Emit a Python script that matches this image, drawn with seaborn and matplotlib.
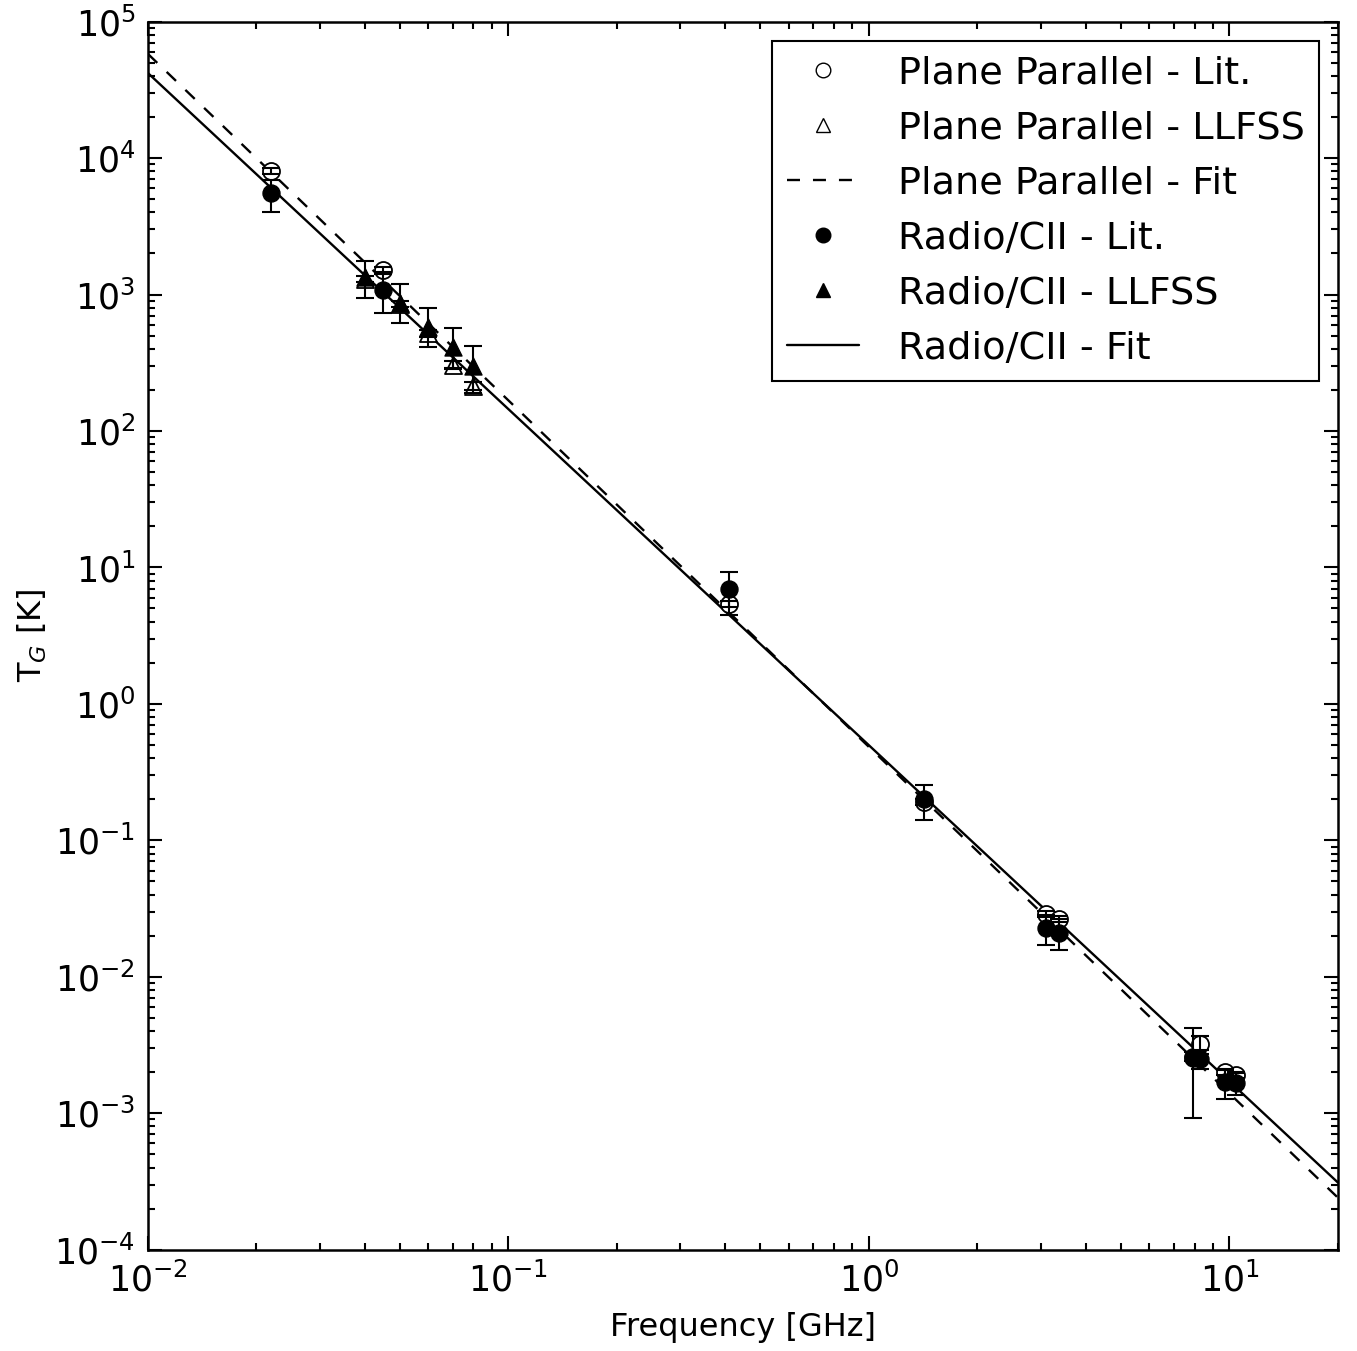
import numpy as np
import pandas as pd
import matplotlib
matplotlib.use("Agg")
import matplotlib.pyplot as plt
from matplotlib.lines import Line2D
import seaborn as sns

# frequencies in GHz, temperatures in K
lit_freq = [0.022, 0.045, 0.408, 1.42, 3.10, 3.36, 7.9, 8.3, 9.7, 10.4]
pp_lit_T = [8100, 1500, 5.4, 0.19, 0.0288, 0.0265, 0.0026, 0.0032, 0.0020, 0.0019]
pp_lit_err = [400, 80, 0.3, 0.01, 0.0015, 0.0013, 0.0002, 0.0005, 0.0001, 0.0001]
radio_lit_T = [5500, 1080, 7.0, 0.20, 0.0228, 0.0210, 0.00255, 0.0025, 0.00168, 0.00166]
radio_lit_lo = [1450, 350, 2.5, 0.058, 0.0057, 0.0053, 0.00163, 0.0004, 0.0004, 0.0003]
radio_lit_hi = [1450, 390, 2.3, 0.055, 0.0057, 0.0053, 0.00165, 0.0004, 0.0004, 0.0003]

llfss_freq = [0.040, 0.050, 0.060, 0.070, 0.080]
pp_llfss_T = [1300, 850, 520, 305, 215]
pp_llfss_err = [60, 40, 30, 18, 14]
radio_llfss_T = [1350, 870, 580, 414, 301]
radio_llfss_lo = [400, 250, 165, 130, 110]
radio_llfss_hi = [420, 330, 220, 150, 117]

# power-law fits, end points at the axis limits
fit_freq = [0.01, 20.0]
pp_fit_T = [58000, 2.4e-4]
radio_fit_T = [42000, 3.1e-4]

sns.set_style("ticks")
plt.rcParams['font.family'] = ['DejaVu Sans']
plt.rcParams['mathtext.fontset'] = 'dejavusans'
plt.rcParams.update({'text.color': 'k', 'axes.labelcolor': 'k',
                     'xtick.color': 'k', 'ytick.color': 'k',
                     'axes.edgecolor': 'k', 'axes.unicode_minus': False})

dash = (0, (5.5, 5.5))

fig, ax = plt.subplots(figsize=(13.57, 13.51), dpi=100)
fig.subplots_adjust(left=0.109, right=0.986, top=0.984, bottom=0.075)

fits = pd.DataFrame({'freq': fit_freq * 2,
                     'T': pp_fit_T + radio_fit_T,
                     'fit': ['pp'] * 2 + ['radio'] * 2})
sns.lineplot(data=fits[fits.fit == 'pp'], x='freq', y='T', color='k',
             lw=1.7, linestyle=dash, ax=ax, zorder=1)
sns.lineplot(data=fits[fits.fit == 'radio'], x='freq', y='T', color='k',
             lw=1.7, ax=ax, zorder=1)

# open markers (plane parallel)
sns.scatterplot(x=lit_freq, y=pp_lit_T, marker='o', s=150, facecolor='white',
                edgecolor='k', linewidth=1.3, ax=ax, zorder=2)
sns.scatterplot(x=llfss_freq, y=pp_llfss_T, marker='^', s=150, facecolor='white',
                edgecolor='k', linewidth=1.3, ax=ax, zorder=2)

eb = dict(fmt='none', ecolor='k', elinewidth=1.5, capsize=6.5, capthick=1.5, zorder=3)
ax.errorbar(lit_freq, pp_lit_T, yerr=pp_lit_err, **eb)
ax.errorbar(llfss_freq, pp_llfss_T, yerr=pp_llfss_err, **eb)
ax.errorbar(lit_freq, radio_lit_T, yerr=[radio_lit_lo, radio_lit_hi], **eb)
ax.errorbar(llfss_freq, radio_llfss_T, yerr=[radio_llfss_lo, radio_llfss_hi], **eb)

# filled markers (radio/CII)
sns.scatterplot(x=lit_freq, y=radio_lit_T, marker='o', s=150, color='k',
                edgecolor='k', ax=ax, zorder=4)
sns.scatterplot(x=llfss_freq, y=radio_llfss_T, marker='^', s=150, color='k',
                edgecolor='k', ax=ax, zorder=4)

ax.set_xscale('log')
ax.set_yscale('log')
ax.set_xlim(0.01, 20)
ax.set_ylim(1e-4, 1e5)
ax.set_xlabel('Frequency [GHz]', fontsize=23, labelpad=10)
ax.set_ylabel(r'T$_G$ [K]', fontsize=23, labelpad=4)
ax.tick_params(which='both', direction='in', top=True, right=True, width=1.5)
ax.tick_params(which='major', length=10, labelsize=25, pad=9)
ax.tick_params(which='minor', length=5)
for sp in ax.spines.values():
    sp.set_visible(True)
    sp.set_linewidth(1.8)

handles = [
    Line2D([], [], ls='none', marker='o', mfc='white', mec='k', ms=10.5),
    Line2D([], [], ls='none', marker='^', mfc='white', mec='k', ms=10.5),
    Line2D([], [], color='k', lw=1.7, linestyle=dash),
    Line2D([], [], ls='none', marker='o', mfc='k', mec='k', ms=10.5),
    Line2D([], [], ls='none', marker='^', mfc='k', mec='k', ms=10.5),
    Line2D([], [], color='k', lw=1.7),
]
labels = ['Plane Parallel - Lit.', 'Plane Parallel - LLFSS', 'Plane Parallel - Fit',
          'Radio/CII - Lit.', 'Radio/CII - LLFSS', 'Radio/CII - Fit']
leg = ax.legend(handles, labels, loc='upper right', fontsize=27.5, numpoints=1,
                handlelength=1.9, handletextpad=1.0, labelspacing=0.5,
                borderpad=0.38, borderaxespad=0.5, fancybox=False, framealpha=1)
leg.get_frame().set_edgecolor('k')
leg.get_frame().set_linewidth(1.5)

plt.savefig('out.png', dpi=100)
